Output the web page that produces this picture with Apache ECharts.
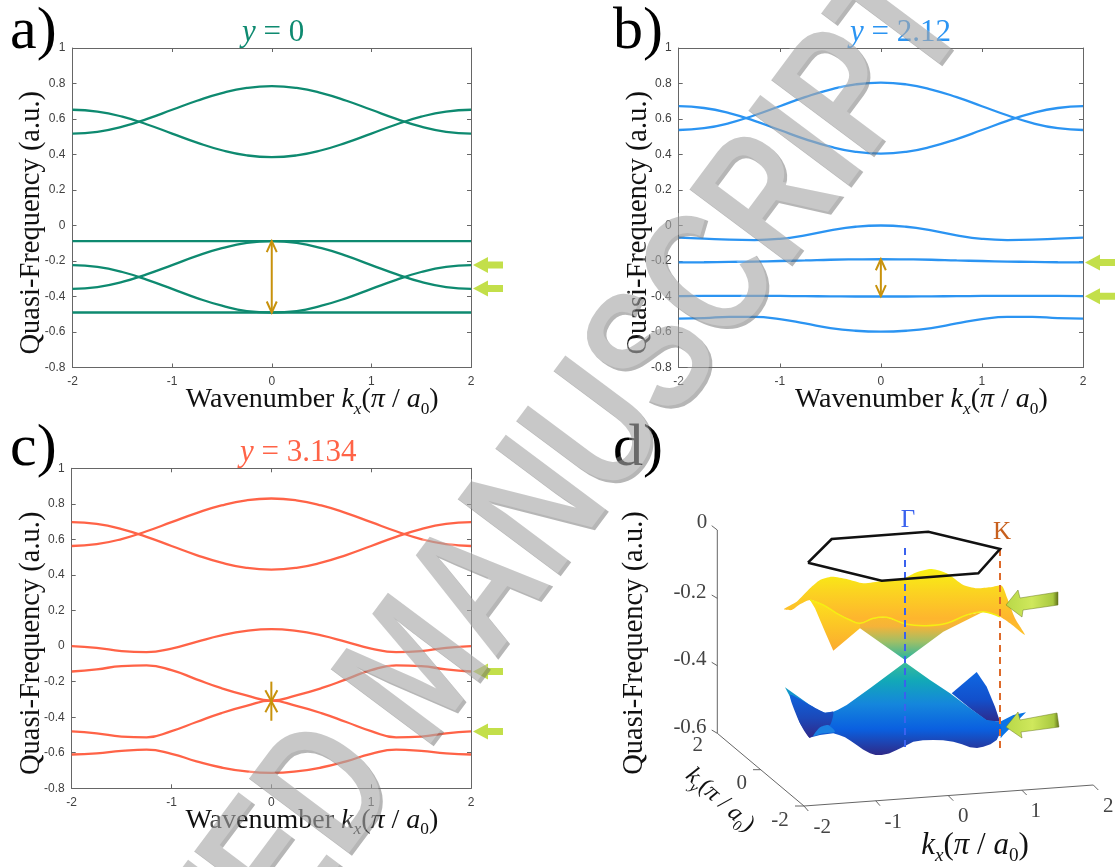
<!DOCTYPE html>
<html><head><meta charset="utf-8">
<style>html,body{margin:0;padding:0;background:#fff}#c{width:1115px;height:867px}</style>
<script src="https://cdn.jsdelivr.net/npm/echarts@6/dist/echarts.min.js"></script>
</head><body><div id="c"></div>
<script>
// ---------- data: panels a, b, c ----------
const kx = [-2,-1.75,-1.5,-1.25,-1,-0.75,-0.5,-0.25,0,0.25,0.5,0.75,1,1.25,1.5,1.75,2];
const a1 = [0.518,0.528,0.557,0.601,0.652,0.703,0.746,0.775,0.785,0.775,0.746,0.703,0.652,0.601,0.557,0.528,0.518];
const a2 = [0.652,0.642,0.613,0.569,0.518,0.467,0.424,0.395,0.385,0.395,0.424,0.467,0.518,0.569,0.613,0.642,0.652];
const a3 = [-0.088,-0.088,-0.088,-0.088,-0.088,-0.088,-0.088,-0.088,-0.088,-0.088,-0.088,-0.088,-0.088,-0.088,-0.088,-0.088,-0.088];
const a4 = [-0.357,-0.347,-0.318,-0.274,-0.223,-0.171,-0.128,-0.098,-0.088,-0.098,-0.128,-0.171,-0.223,-0.274,-0.318,-0.347,-0.357];
const a5 = [-0.223,-0.233,-0.262,-0.306,-0.357,-0.409,-0.452,-0.482,-0.49,-0.482,-0.452,-0.409,-0.357,-0.306,-0.262,-0.233,-0.223];
const a6 = [-0.49,-0.49,-0.49,-0.49,-0.49,-0.49,-0.49,-0.49,-0.49,-0.49,-0.49,-0.49,-0.49,-0.49,-0.49,-0.49,-0.49];
const b1 = [0.538,0.548,0.577,0.621,0.672,0.723,0.766,0.795,0.805,0.795,0.766,0.723,0.672,0.621,0.577,0.548,0.538];
const b2 = [0.672,0.662,0.633,0.589,0.538,0.487,0.444,0.415,0.405,0.415,0.444,0.487,0.538,0.589,0.633,0.662,0.672];
const b3 = [-0.068,-0.074,-0.08,-0.082,-0.075,-0.055,-0.027,-0.007,0,-0.007,-0.027,-0.055,-0.075,-0.082,-0.08,-0.074,-0.068];
const b4 = [-0.208,-0.207,-0.205,-0.203,-0.2,-0.197,-0.193,-0.191,-0.19,-0.191,-0.193,-0.197,-0.2,-0.203,-0.205,-0.207,-0.208];
const b5 = [-0.398,-0.397,-0.396,-0.396,-0.397,-0.398,-0.399,-0.4,-0.4,-0.4,-0.399,-0.398,-0.397,-0.396,-0.396,-0.397,-0.398];
const b6 = [-0.525,-0.522,-0.515,-0.515,-0.528,-0.552,-0.578,-0.593,-0.598,-0.593,-0.578,-0.552,-0.528,-0.515,-0.515,-0.522,-0.525];
const c1 = [0.563,0.573,0.602,0.646,0.697,0.748,0.791,0.82,0.83,0.82,0.791,0.748,0.697,0.646,0.602,0.573,0.563];
const c2 = [0.697,0.687,0.658,0.614,0.563,0.512,0.469,0.44,0.43,0.44,0.469,0.512,0.563,0.614,0.658,0.687,0.697];
const c3 = [0,-0.01,-0.028,-0.034,-0.014,0.024,0.06,0.085,0.095,0.085,0.06,0.024,-0.014,-0.034,-0.028,-0.01,0];
const c4 = [-0.143,-0.131,-0.113,-0.109,-0.135,-0.187,-0.237,-0.277,-0.307,-0.277,-0.237,-0.187,-0.135,-0.109,-0.113,-0.131,-0.143];
const c5 = [-0.48,-0.491,-0.509,-0.513,-0.478,-0.427,-0.377,-0.337,-0.307,-0.337,-0.377,-0.427,-0.478,-0.513,-0.509,-0.491,-0.48];
const c6 = [-0.61,-0.603,-0.59,-0.583,-0.606,-0.648,-0.683,-0.705,-0.713,-0.705,-0.683,-0.648,-0.606,-0.583,-0.59,-0.603,-0.61];
const arrowsA = [[-0.088,-0.49]], greenA = [-0.222,-0.355];
const arrowsB = [[-0.19,-0.398]], greenB = [-0.208,-0.398];
const starC = [-0.2,-0.42], greenC = [-0.143,-0.48];

// ---------- data: panel d (hidden scale, outlines) ----------
const hexagon = [[808,562.7],[831.7,539],[928.3,531.7],[1000,549],[978.3,573.3],[881.7,580.7],[808,562.7]];
const upperBack = [[784,609],[796.7,601.7],[810,588.3],[820,580],[831.7,576.7],[846.7,579],[863.3,583.3],[881.7,581],[905,577.7],[916.7,572.3],[931.7,569],[946.7,573.3],[963.3,585],[976.7,588.3],[990,587.3],[1001.7,585.7],[1007.3,598.3],[1015,618.3],[1025,635],[1010,623.3],[1000,616.7],[983.3,611.7],[966.7,615],[946.7,623.3],[926.7,625.7],[906.7,624.3],[886.7,617.3],[873.3,618.3],[860,623.3],[850,620],[836.7,613.3],[823.3,605],[810,600],[800,604.3],[791.7,610]];
const upperFlap = [[810,600],[823.3,605],[836.7,613.3],[850,620],[860,623.3],[860,628.3],[833.3,650.7],[825,631.7],[815,608.3]];
const upperCone = [[860,623.3],[873.3,618.3],[886.7,617.3],[906.7,624.3],[926.7,625.7],[946.7,623.3],[966.7,615],[983.3,611.7],[943.3,631.7],[905,660],[860,628.3]];
const upperLip = [[810,600],[823.3,605],[836.7,613.3],[850,620],[860,623.3],[873.3,618.3],[886.7,617.3],[906.7,624.3],[926.7,625.7],[946.7,623.3],[966.7,615],[983.3,611.7],[1000,616.7]];
const lowerMain = [[905,662.3],[870,688.3],[846.7,705],[838,709.7],[833.3,711.7],[825,712.7],[817,709.5],[810,705],[785,687.3],[791.7,700],[800,723.3],[809.3,737.7],[820,735],[833.3,733.3],[839,735],[845,737.3],[850.5,740.8],[856.7,745],[863,749.5],[870,753.3],[875.5,755],[881.7,755],[889,753.5],[896.7,750],[905,746],[913.3,741.7],[923,740.3],[933.3,740],[943,740.2],[953.3,741.7],[962,744.2],[970,747.3],[977,748],[983.3,746.7],[990.5,744.2],[996.7,740],[1001.7,730],[1000,721.7],[986.7,720],[970,708.3],[950,693.3],[930,680]];
const lowerBack = [[951.7,693.3],[976.7,672],[986.7,686.7],[995,706.7],[1000,721.7],[986.7,720.7],[970,708.3]];
const lowerRightLip = [[1000,721.7],[1013.3,715],[1026,712.3],[1020,718.3],[1010,728.3],[1003.3,735],[1000.7,738.3]];
const lowerLeftFlank = [[790,695],[810,705],[825,712.7],[833.3,711.7],[830,725],[813,736],[809.3,737.7],[800,723.3]];
const lowerLeftLip = [[813.3,736],[820,727.3],[828.3,725],[835,731.7],[822,733.5]];
const gammaLine = [[905,548],[905,750]], kLine = [[1000,549],[1000,750]];
const zAxisLine = [[717.3,530],[717.3,733.3]];
const kyAxisLine = [[717.3,733.3],[804,806]], kxAxisLine = [[804,806],[1093.3,785]];
const tickSegs = [
 [[711.7,525.7],[717.3,530]],[[711.7,595],[717.3,598.3]],[[711.7,662.3],[717.3,665.7]],[[711.7,730],[717.3,733.3]],
 [[760.7,769.7],[753,769.7]],[[804,806],[795,806]],
 [[804,806],[808.3,811]],[[875.7,800.7],[880,805.7]],[[948.3,795.7],[953.3,800.7]],[[1021.7,790],[1026.7,795]],[[1093.3,785],[1098.3,790]]];
const zTicks = [[702,522,'0'],[690,592,'-0.2'],[690,659.5,'-0.4'],[690,727,'-0.6']];
const kyTicks = [[697.7,745.7,'2'],[741.7,783.3,'0'],[780,820.7,'-2']];
const kxTicks = [[822.3,827.3,'-2'],[893.3,822.3,'-1'],[963.3,816.7,'0'],[1035.7,811.7,'1'],[1108.3,806,'2']];
const arrow3dUpper = [[1006,605],[1018,590],[1020,598],[1058,592],[1058,605],[1023,610],[1022,617]];
const arrow3dLower = [[1006,727],[1018,712],[1020,720],[1057,713],[1059,727],[1021,732],[1022,738]];

const serif = '"Liberation Serif","Times New Roman",serif';
const sans = '"Liberation Sans",Arial,sans-serif';
const colA='#0e8a70', colB='#2b94f2', colC='#ff6347', gold='#c8920c', lime='#c3df4a', axisGrey='#666', labelGrey='#404040';

const grids = [
 {left:72.5,top:48,width:398.5,height:319.5},
 {left:678.7,top:48,width:404.3,height:319.5},
 {left:71.7,top:468.3,width:399.3,height:320},
 {left:610,top:425,width:505,height:440}
];
const mathRich = (fs)=>({
 n:{fontFamily:serif,fontSize:fs,color:'#111',lineHeight:fs+8},
 i:{fontFamily:serif,fontSize:fs,fontStyle:'italic',color:'#111',lineHeight:fs+8},
 s:{fontFamily:serif,fontSize:fs*0.62,fontStyle:'italic',color:'#111',lineHeight:fs*0.62,verticalAlign:'bottom'},
 z:{fontFamily:serif,fontSize:fs*0.62,color:'#111',lineHeight:fs*0.62,verticalAlign:'bottom'}
});
const xAxes=[],yAxes=[],series=[];
const edge={onZero:false,lineStyle:{color:axisGrey,width:1}};
const inTick={inside:true,length:4,lineStyle:{color:axisGrey}};
[0,1,2].forEach(g=>{
 xAxes.push({gridIndex:g,type:'value',min:-2,max:2,interval:1,position:'bottom',
  name:'{n|Wavenumber }{i|k}{s|x}{n|(}{i|π}{n| / }{i|a}{z|0}{n|)}',nameLocation:'middle',nameGap:14,nameMoveOverlap:false,
  nameTextStyle:{rich:mathRich(28),padding:[0,0,0,81]},
  axisLine:edge,splitLine:{show:false},axisTick:inTick,
  axisLabel:{color:labelGrey,fontFamily:sans,fontSize:12,margin:8}});
 xAxes.push({gridIndex:g,type:'value',min:-2,max:2,interval:1,position:'top',
  axisLine:edge,splitLine:{show:false},axisTick:inTick,axisLabel:{show:false}});
 yAxes.push({gridIndex:g,type:'value',min:-0.8,max:1,interval:0.2,position:'left',
  name:'Quasi-Frequency (a.u.)',nameLocation:'middle',nameGap:26,nameMoveOverlap:false,
  nameTextStyle:{fontFamily:serif,fontSize:28.5,color:'#111',padding:[0,30,0,0]},
  axisLine:edge,splitLine:{show:false},axisTick:inTick,
  axisLabel:{color:labelGrey,fontFamily:sans,fontSize:12,margin:7}});
 yAxes.push({gridIndex:g,type:'value',min:-0.8,max:1,interval:0.2,position:'right',
  axisLine:edge,splitLine:{show:false},axisTick:inTick,axisLabel:{show:false}});
});
// hidden page-scaled axes for the 3-D panel
xAxes.push({gridIndex:3,type:'value',min:610,max:1115,show:false});
yAxes.push({gridIndex:3,type:'value',min:425,max:865,inverse:true,show:false});

const bandLine=(g,vals,col)=>({type:'line',xAxisIndex:g*2,yAxisIndex:g*2,showSymbol:false,smooth:0.5,silent:true,
  data:kx.map((k,i)=>[k,vals[i]]),lineStyle:{color:col,width:2.3}});
[a1,a2,a3,a4,a5,a6].forEach(v=>series.push(bandLine(0,v,colA)));
[b1,b2,b3,b4,b5,b6].forEach(v=>series.push(bandLine(1,v,colB)));
[c1,c2,c3,c4,c5,c6].forEach(v=>series.push(bandLine(2,v,colC)));

const doubleArrow=(g,pair)=>({type:'custom',xAxisIndex:g*2,yAxisIndex:g*2,silent:true,z:5,data:[pair],
  renderItem:(p,api)=>{
   const t=api.coord([0,pair[0]]),b=api.coord([0,pair[1]]),w=5,h=11;
   const st={stroke:gold,fill:null,lineWidth:2};
   return {type:'group',children:[
    {type:'line',shape:{x1:t[0],y1:t[1],x2:b[0],y2:b[1]},style:st},
    {type:'polyline',shape:{points:[[t[0]-w,t[1]+h],[t[0],t[1]],[t[0]+w,t[1]+h]]},style:st},
    {type:'polyline',shape:{points:[[b[0]-w,b[1]-h],[b[0],b[1]],[b[0]+w,b[1]-h]]},style:st}]};
  }});
series.push(doubleArrow(0,arrowsA[0]),doubleArrow(1,arrowsB[0]));
series.push({type:'custom',xAxisIndex:4,yAxisIndex:4,silent:true,z:5,data:[starC],
  renderItem:(p,api)=>{
   const t=api.coord([0,starC[0]]),b=api.coord([0,starC[1]]),m=[t[0],(t[1]+b[1])/2];
   const st={stroke:gold,fill:null,lineWidth:2},w=6,h=11;
   return {type:'group',children:[
    {type:'line',shape:{x1:t[0],y1:t[1],x2:b[0],y2:b[1]},style:st},
    {type:'line',shape:{x1:m[0]-w,y1:m[1]-h,x2:m[0]+w,y2:m[1]+h},style:st},
    {type:'line',shape:{x1:m[0]+w,y1:m[1]-h,x2:m[0]-w,y2:m[1]+h},style:st}]};
  }});
const greenArrows=(g,vals)=>({type:'custom',xAxisIndex:g*2,yAxisIndex:g*2,silent:true,z:5,clip:false,data:vals.map(v=>[2,v]),
  renderItem:(p,api)=>{
   const c=api.coord([2,api.value(1)]),x=c[0]+2,y=c[1];
   return {type:'polygon',shape:{points:[[x,y],[x+15,y-8],[x+15,y-3.5],[x+30,y-3.5],[x+30,y+3.5],[x+15,y+3.5],[x+15,y+8]]},style:{fill:lime}};
  }});
series.push(greenArrows(0,greenA),greenArrows(1,greenB),greenArrows(2,greenC));

// panel d helpers
const dIdx=xAxes.length-1;
const poly=(pts,fill,extra,smooth)=>({type:'custom',xAxisIndex:dIdx,yAxisIndex:dIdx,silent:true,z:3,data:[0],clip:false,
  renderItem:(p,api)=>({type:'polygon',shape:{points:pts.map(q=>api.coord(q)),smooth:smooth||0},style:Object.assign({fill},extra||{})})});
const pline=(pts,col,w,dash,z,smooth)=>({type:'custom',xAxisIndex:dIdx,yAxisIndex:dIdx,silent:true,z:z||3,data:[0],clip:false,
  renderItem:(p,api)=>({type:'polyline',shape:{points:pts.map(q=>api.coord(q)),smooth:smooth||0},style:{stroke:col,fill:null,lineWidth:w,lineDash:dash||null}})});
const vgrad=(stops)=>new echarts.graphic.LinearGradient(0,0,0,1,stops.map(s=>({offset:s[0],color:s[1]})));
const hgrad=(stops)=>new echarts.graphic.LinearGradient(0,0,1,0,stops.map(s=>({offset:s[0],color:s[1]})));
series.push(pline(zAxisLine,'#666',1),pline(kyAxisLine,'#666',1),pline(kxAxisLine,'#666',1));
tickSegs.forEach(s=>series.push(pline(s,'#666',1)));
const sm=0.22;
series.push(
 poly(lowerBack,vgrad([[0,'#0f68e2'],[0.55,'#1250cc'],[1,'#2e2a8c']])),
 poly(lowerRightLip,'#0a74e6'),
 poly(lowerMain,vgrad([[0,'#3abc98'],[0.2,'#12a8b8'],[0.45,'#1586dc'],[0.72,'#0a60e0'],[1,'#2f2a88']])),
 poly(lowerLeftFlank,vgrad([[0,'#0f62dc'],[0.55,'#1c48b8'],[1,'#30298a']]),null,sm),
 poly(lowerLeftLip,'#1a80e2',null,sm),
 poly(upperBack,vgrad([[0,'#f8f012'],[0.35,'#fbd321'],[0.75,'#feb52e'],[1,'#fdc22a']]),null,sm),
 poly(upperFlap,vgrad([[0,'#fde11c'],[1,'#fbaa30']])),
 poly(upperCone,vgrad([[0,'#fdbd2a'],[0.3,'#f6b338'],[0.62,'#9fbf66'],[1,'#22b5a3']])),
 pline(upperLip,'#f5ee12',1.5,null,3,0.4),
 pline(gammaLine,'#3a62ee',2,[7,5],6),
 pline(kLine,'#dd6a2a',2,[7,5],6),
 pline(hexagon,'#111',2.6,null,7),
 poly(arrow3dUpper,hgrad([[0,'#b8d848'],[0.5,'#cfe85c'],[0.9,'#a8c840'],[1,'#5e6e18']]),{stroke:'#6a7a20',lineWidth:0.5}),
 poly(arrow3dLower,hgrad([[0,'#b8d848'],[0.5,'#cfe85c'],[0.9,'#a8c840'],[1,'#5e6e18']]),{stroke:'#6a7a20',lineWidth:0.5})
);
// panel d text, placed on the hidden scale
const txt=(list,fs,col)=>({type:'custom',xAxisIndex:dIdx,yAxisIndex:dIdx,silent:true,z:8,data:list.map((_,i)=>i),clip:false,
  renderItem:(p,api)=>{const t=list[p.dataIndex],c=api.coord([t[0],t[1]]);
   return {type:'text',x:c[0],y:c[1],rotation:t[3]||0,style:{text:t[2],fontFamily:serif,fontSize:fs,fill:col,align:'center',verticalAlign:'middle',rich:t[4]}};
  }});
series.push(txt(zTicks,21,'#444'),txt(kyTicks,21,'#444'),txt(kxTicks,21,'#444'));
series.push(txt([[908,520,'Γ']],25,'#3a62ee'),txt([[1002,532,'K']],25,'#c8601e'));
series.push(txt([[635,643,'Quasi-Frequency (a.u.)',Math.PI/2]],28.5,'#111'));
series.push(txt([[975,846,'{i|k}{s|x}{n|(}{i|π}{n| / }{i|a}{z|0}{n|)}',0,mathRich(31)]],31,'#111'));
series.push(txt([[720,800,'{i|k}{s|y}{n|(}{i|π}{n| / }{i|a}{z|0}{n|)}',-0.73,mathRich(24)]],24,'#111'));

const panelTitle=(t,l,tp)=>({text:t,left:l,top:tp,textStyle:{fontFamily:serif,fontSize:60,fontWeight:'normal',color:'#000'}});
const yTitle=(t,l,tp,col)=>({text:`{i|y}{n| = ${t}}`,left:l,top:tp,textStyle:{rich:{
   i:{fontFamily:serif,fontSize:31,fontStyle:'italic',fontWeight:'normal',color:col},n:{fontFamily:serif,fontSize:31,fontWeight:'normal',color:col}}}});

// watermark
const WM='ACCEPTED MANUSCRIPT', wmAngle=53.2*Math.PI/180;
const wm=(dx,dy,fill)=>({type:'text',silent:true,z:100,x:930+dx,y:-8+dy,rotation:wmAngle,scaleX:0.73,
  style:{text:WM,fontFamily:sans,fontWeight:'bold',fontSize:187,align:'right',verticalAlign:'middle',fill}});

const chart=echarts.init(document.getElementById('c'),null,{renderer:'canvas'});
chart.setOption({
 animation:false,backgroundColor:'#fff',
 title:[panelTitle('a)',5,-3),panelTitle('b)',608,-3),panelTitle('c)',5,414),panelTitle('d)',608,414),
  yTitle('0',237,12,colA),yTitle('2.12',845,12,colB),yTitle('3.134',235,432,colC)],
 grid:grids,xAxis:xAxes,yAxis:yAxes,series,
 graphic:[wm(2,2,'rgba(110,110,110,0.5)'),wm(-1,-1,'rgba(255,255,255,0.25)')]
});
</script></body></html>
